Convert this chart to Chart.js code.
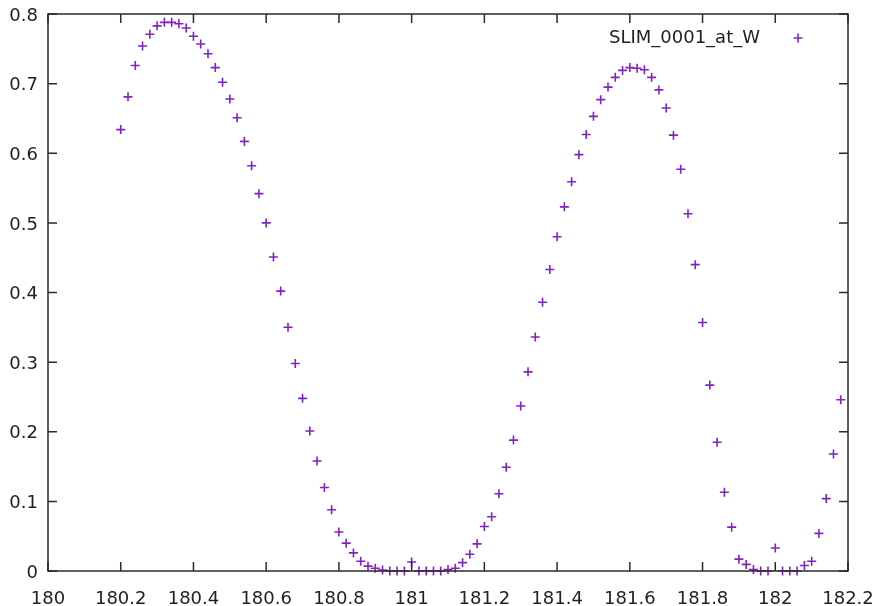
<!DOCTYPE html>
<html>
<head>
<meta charset="utf-8">
<script src="https://cdn.jsdelivr.net/npm/chart.js@4"></script>
<style>
    html, body { margin: 0; padding: 0; background: #fff; }
    #chart { display: block; }
</style>
</head>
<body>
<canvas id="chart" width="885" height="606"></canvas>
<script>
const seriesName = "SLIM_0001_at_W";
const xValues = [
    180.20, 180.22, 180.24, 180.26, 180.28, 180.30, 180.32, 180.34, 180.36, 180.38,
    180.40, 180.42, 180.44, 180.46, 180.48, 180.50, 180.52, 180.54, 180.56, 180.58,
    180.60, 180.62, 180.64, 180.66, 180.68, 180.70, 180.72, 180.74, 180.76, 180.78,
    180.80, 180.82, 180.84, 180.86, 180.88, 180.90, 180.92, 180.94, 180.96, 180.98,
    181.00, 181.02, 181.04, 181.06, 181.08, 181.10, 181.12, 181.14, 181.16, 181.18,
    181.20, 181.22, 181.24, 181.26, 181.28, 181.30, 181.32, 181.34, 181.36, 181.38,
    181.40, 181.42, 181.44, 181.46, 181.48, 181.50, 181.52, 181.54, 181.56, 181.58,
    181.60, 181.62, 181.64, 181.66, 181.68, 181.70, 181.72, 181.74, 181.76, 181.78,
    181.80, 181.82, 181.84, 181.86, 181.88, 181.90, 181.92, 181.94, 181.96, 181.98,
    182.00, 182.02, 182.04, 182.06, 182.08, 182.10, 182.12, 182.14, 182.16, 182.18
];
const yValues = [
    0.634, 0.681, 0.726, 0.754, 0.771, 0.783, 0.788, 0.788, 0.786, 0.780,
    0.768, 0.757, 0.743, 0.723, 0.702, 0.678, 0.651, 0.617, 0.582, 0.542,
    0.500, 0.451, 0.402, 0.350, 0.298, 0.248, 0.201, 0.158, 0.120, 0.088,
    0.056, 0.040, 0.026, 0.014, 0.007, 0.004, 0.0015, 0, 0, 0,
    0.013, 0, 0, 0, 0, 0.002, 0.004, 0.012, 0.024, 0.039,
    0.064, 0.078, 0.111, 0.149, 0.188, 0.237, 0.286, 0.336, 0.386, 0.433,
    0.480, 0.523, 0.559, 0.598, 0.627, 0.653, 0.677, 0.695, 0.709, 0.719,
    0.723, 0.722, 0.720, 0.709, 0.691, 0.665, 0.626, 0.577, 0.513, 0.440,
    0.357, 0.267, 0.185, 0.113, 0.063, 0.017, 0.0095, 0.002, 0, 0,
    0.033, 0, 0, 0, 0.008, 0.014, 0.054, 0.104, 0.168, 0.246
];
const xTicks = [180, 180.2, 180.4, 180.6, 180.8, 181, 181.2, 181.4, 181.6, 181.8, 182, 182.2];
const yTicks = [0, 0.1, 0.2, 0.3, 0.4, 0.5, 0.6, 0.7, 0.8];

const markColor = "#8322c4";
const frameColor = "#2a2a2a";
const fontSpec = { family: "'DejaVu Sans', sans-serif", size: 18 };

// border box, inward ticks on all four sides and the key in the top right corner
const frame = {
    id: "frame",
    afterDraw(chart) {
        const { ctx, chartArea: a, scales: { x, y } } = chart;
        const len = 9;
        ctx.save();
        ctx.strokeStyle = frameColor;
        ctx.lineWidth = 1.5;
        ctx.strokeRect(a.left, a.top, a.right - a.left, a.bottom - a.top);
        ctx.beginPath();
        xTicks.forEach(v => {
            const px = x.getPixelForValue(v);
            ctx.moveTo(px, a.bottom); ctx.lineTo(px, a.bottom - len);
            ctx.moveTo(px, a.top); ctx.lineTo(px, a.top + len);
        });
        yTicks.forEach(v => {
            const py = y.getPixelForValue(v);
            ctx.moveTo(a.left, py); ctx.lineTo(a.left + len, py);
            ctx.moveTo(a.right, py); ctx.lineTo(a.right - len, py);
        });
        ctx.stroke();

        // key: title on the left, sample on the right
        const ky = a.top + 24;
        const sx = a.right - 50;
        ctx.fillStyle = "#222";
        ctx.font = `${fontSpec.size}px ${fontSpec.family}`;
        ctx.textAlign = "right";
        ctx.textBaseline = "middle";
        ctx.fillText(seriesName, a.right - 88, ky);
        ctx.strokeStyle = markColor;
        ctx.lineWidth = 1.6;
        ctx.beginPath();
        ctx.moveTo(sx - 4.5, ky); ctx.lineTo(sx + 4.5, ky);
        ctx.moveTo(sx, ky - 4.5); ctx.lineTo(sx, ky + 4.5);
        ctx.stroke();
        ctx.restore();
    }
};

onload = () => {
    const ctx = document.getElementById("chart");
    new Chart(ctx, {
        type: "scatter",
        data: {
            datasets: [{
                label: seriesName,
                data: xValues.map((v, i) => ({ x: v, y: yValues[i] })),
                pointStyle: "cross",
                pointRadius: 4.5,
                pointBorderWidth: 1.6,
                borderColor: markColor,
                backgroundColor: markColor,
                clip: 6
            }]
        },
        options: {
            responsive: false,
            animation: false,
            layout: { padding: { top: 14, right: 37, left: 0, bottom: 0 } },
            plugins: {
                legend: { display: false },
                tooltip: { enabled: false }
            },
            scales: {
                x: {
                    type: "linear",
                    min: 180,
                    max: 182.2,
                    afterBuildTicks: s => { s.ticks = xTicks.map(v => ({ value: v })); },
                    afterFit: s => { s.height = 35; s.paddingLeft = 0; s.paddingRight = 0; },
                    grid: { display: false, drawTicks: false },
                    border: { display: false },
                    ticks: {
                        color: "#222",
                        font: fontSpec,
                        padding: 18,
                        maxRotation: 0,
                        autoSkip: false,
                        callback: v => String(parseFloat(v.toFixed(1)))
                    }
                },
                y: {
                    type: "linear",
                    min: 0,
                    max: 0.8,
                    afterBuildTicks: s => { s.ticks = yTicks.map(v => ({ value: v })); },
                    afterFit: s => { s.width = 48; s.paddingTop = 0; s.paddingBottom = 0; },
                    grid: { display: false, drawTicks: false },
                    border: { display: false },
                    ticks: {
                        color: "#222",
                        font: fontSpec,
                        padding: 10,
                        labelOffset: 2,
                        autoSkip: false,
                        callback: v => String(parseFloat(v.toFixed(1)))
                    }
                }
            }
        },
        plugins: [frame]
    });
};
</script>
</body>
</html>
